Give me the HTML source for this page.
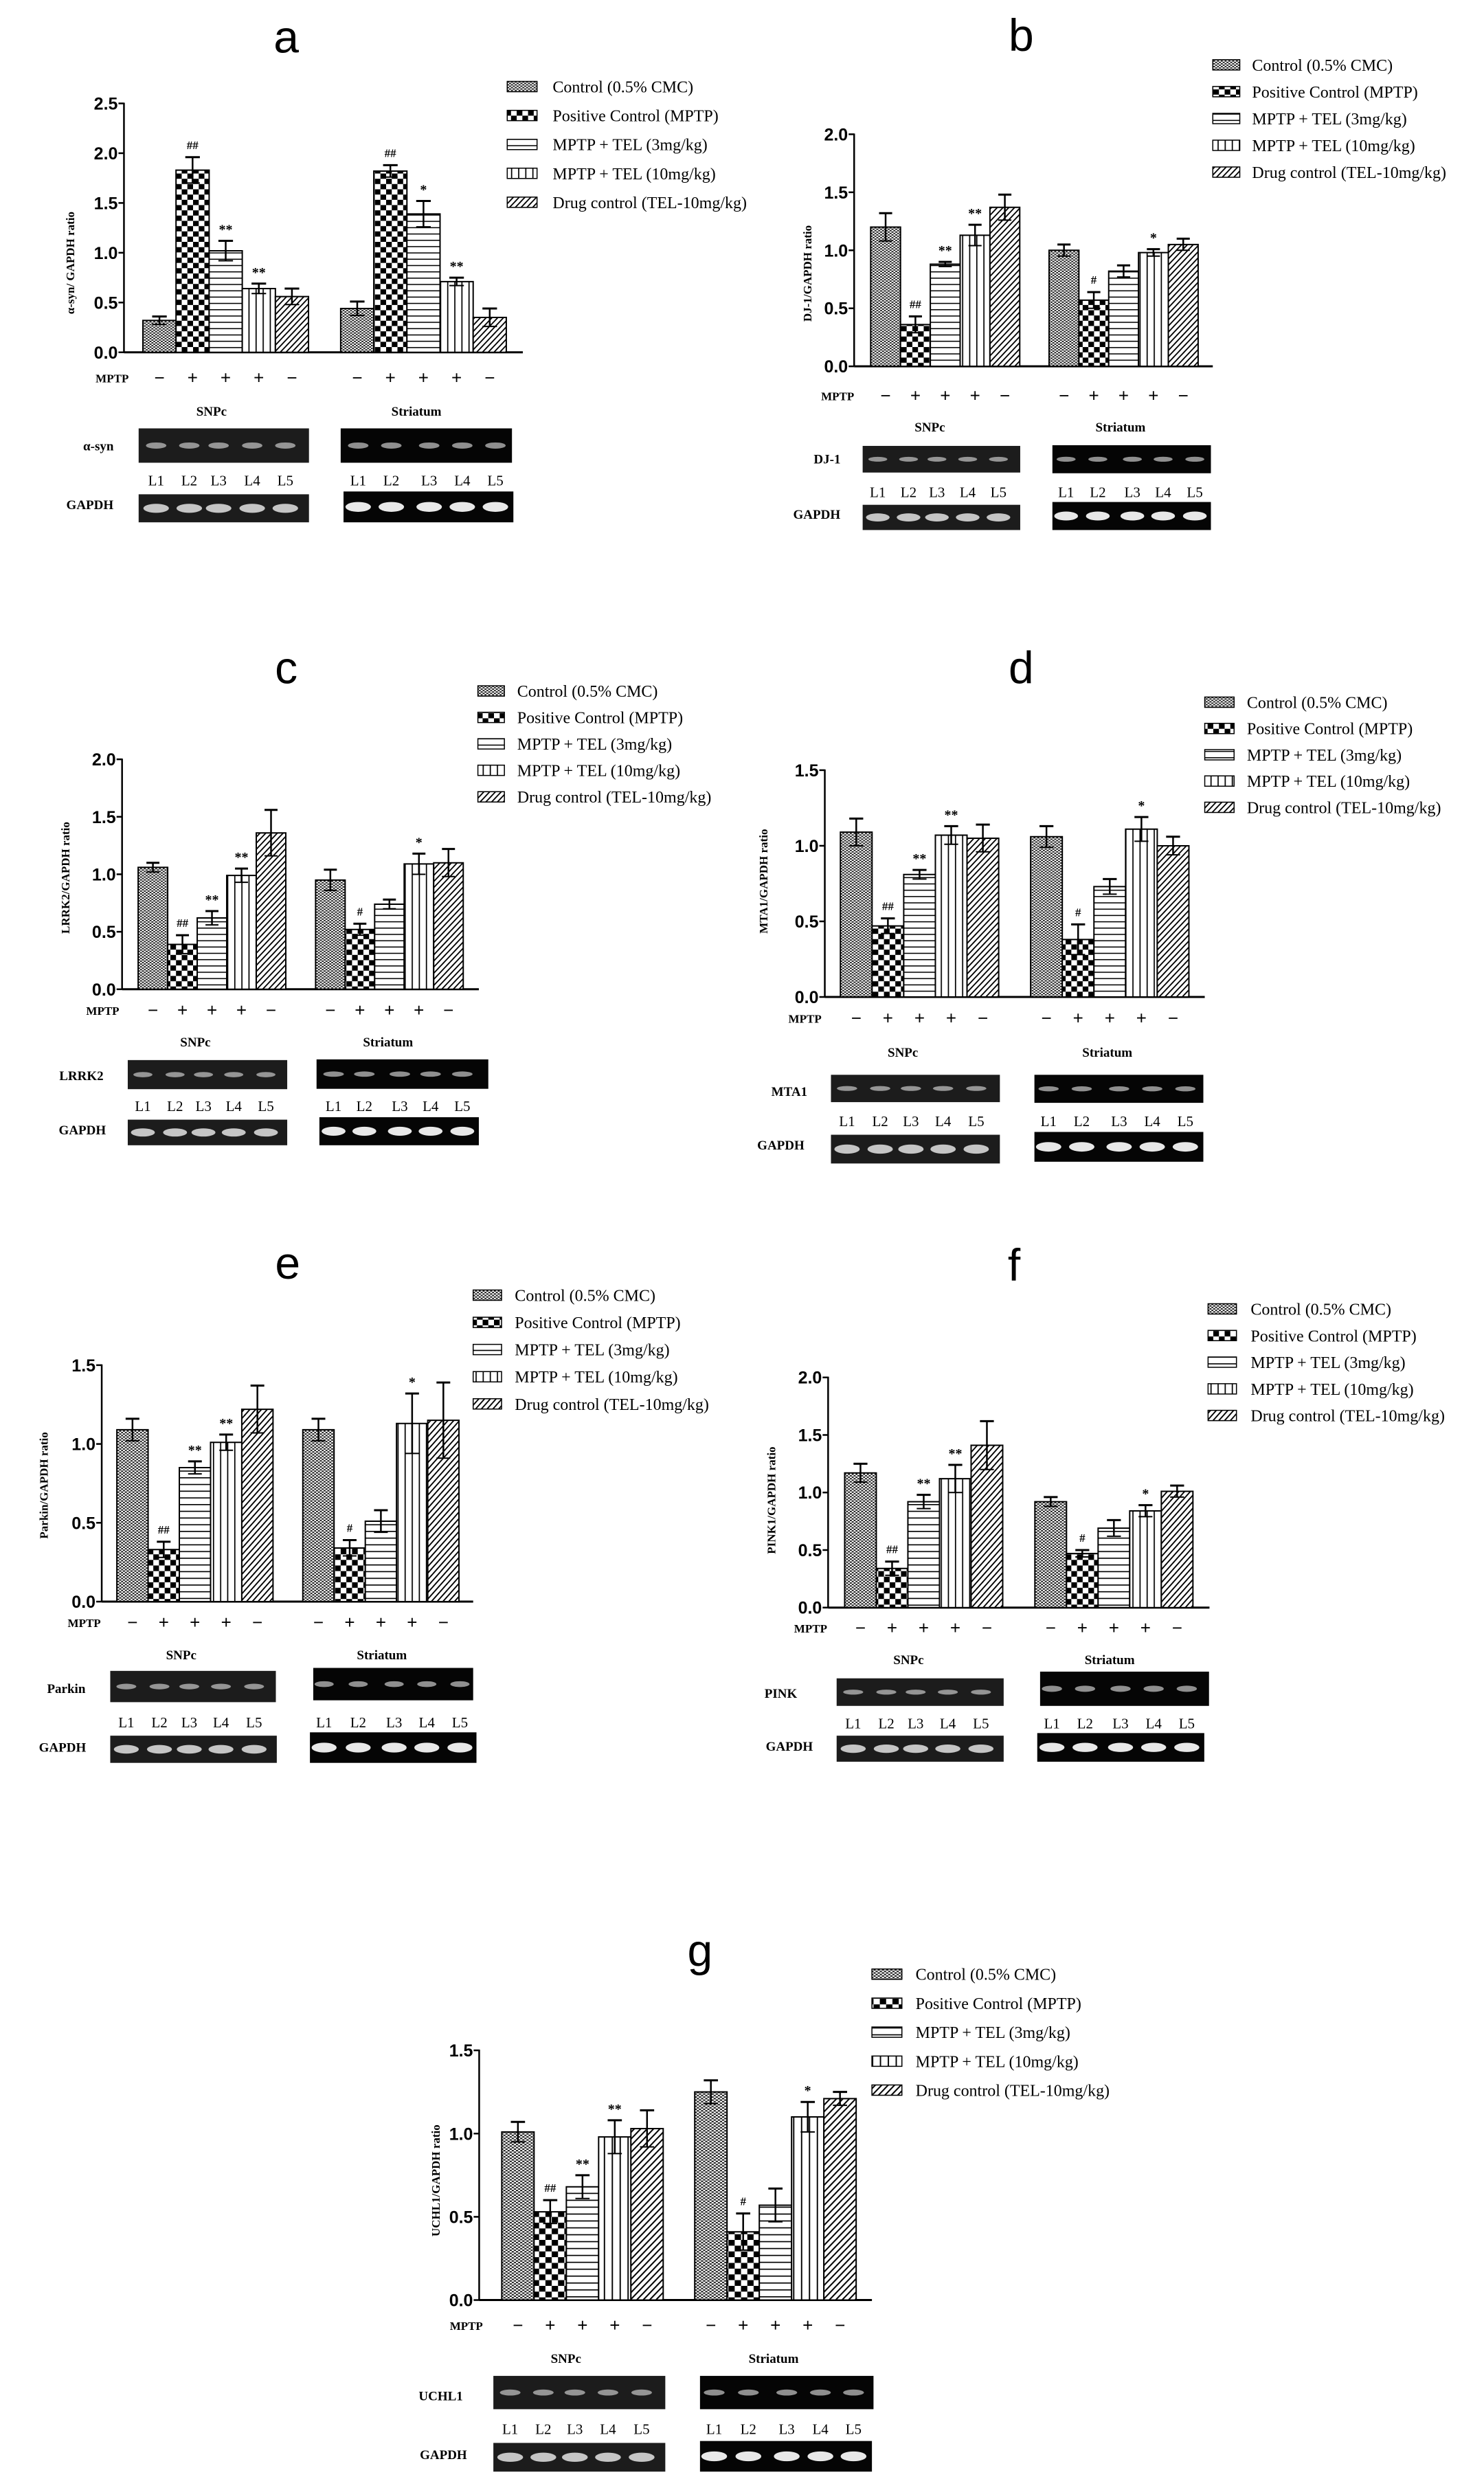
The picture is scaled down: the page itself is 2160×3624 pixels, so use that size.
<!DOCTYPE html>
<html>
<head>
<meta charset="utf-8">
<style>
html,body{margin:0;padding:0;background:#fff;}
svg{display:block;}
</style>
</head>
<body>
<svg id="fig" xmlns="http://www.w3.org/2000/svg" width="2160" height="3624" viewBox="0 0 2160 3624">
<defs>
  <pattern id="p-control" patternUnits="userSpaceOnUse" width="8" height="8">
    <rect width="8" height="8" fill="#fff"/>
    <rect width="4" height="4" fill="#222"/>
    <rect x="4" y="4" width="4" height="4" fill="#222"/>
  </pattern>
  <pattern id="p-positive" patternUnits="userSpaceOnUse" width="24" height="30">
    <rect width="24" height="30" fill="#fff"/>
    <rect width="12" height="15" fill="#000"/>
    <rect x="12" y="15" width="12" height="15" fill="#000"/>
  </pattern>
  <pattern id="p-tel3" patternUnits="userSpaceOnUse" width="10" height="18">
    <rect width="10" height="18" fill="#fff"/>
    <rect y="0" width="10" height="3" fill="#000"/>
  </pattern>
  <pattern id="p-tel10" patternUnits="userSpaceOnUse" width="15" height="10">
    <rect width="15" height="10" fill="#fff"/>
    <rect x="0" width="2.5" height="10" fill="#000"/>
  </pattern>
  <pattern id="p-drug" patternUnits="userSpaceOnUse" width="10" height="10" patternTransform="rotate(35)">
    <rect width="10" height="10" fill="#fff"/>
    <rect width="3" height="10" fill="#000"/>
  </pattern>
</defs>
</svg>
<script>
// ---- data ----
const legendLabels = ["Control (0.5% CMC)","Positive Control (MPTP)","MPTP + TEL (3mg/kg)","MPTP + TEL (10mg/kg)","Drug control (TEL-10mg/kg)"];
const mptpSigns = ["\u2212","+","+","+","\u2212"];
const laneLabels = ["L1","L2","L3","L4","L5"];
const regionLabels = ["SNPc","Striatum"];

const aSnpc = [0.32,1.83,1.02,0.64,0.56];
const aSnpcErr = [0.04,0.13,0.10,0.05,0.08];
const aStr = [0.44,1.82,1.39,0.71,0.35];
const aStrErr = [0.07,0.06,0.13,0.04,0.09];
const aSnpcMarks = ["","##","**","**",""];
const aStrMarks = ["","##","*","**",""];
const aTicks = [0,0.5,1.0,1.5,2.0,2.5];

const bSnpc = [1.20,0.36,0.88,1.13,1.37];
const bSnpcErr = [0.12,0.07,0.02,0.09,0.11];
const bStr = [1.00,0.57,0.82,0.98,1.05];
const bStrErr = [0.05,0.07,0.05,0.03,0.05];
const bSnpcMarks = ["","##","**","**",""];
const bStrMarks = ["","#","","*",""];
const bTicks = [0,0.5,1.0,1.5,2.0];

const cSnpc = [1.06,0.39,0.62,0.99,1.36];
const cSnpcErr = [0.04,0.08,0.06,0.06,0.20];
const cStr = [0.95,0.52,0.74,1.09,1.10];
const cStrErr = [0.09,0.05,0.04,0.09,0.12];
const cSnpcMarks = ["","##","**","**",""];
const cStrMarks = ["","#","","*",""];
const cTicks = [0,0.5,1.0,1.5,2.0];

const dSnpc = [1.09,0.47,0.81,1.07,1.05];
const dSnpcErr = [0.09,0.05,0.03,0.06,0.09];
const dStr = [1.06,0.38,0.73,1.11,1.00];
const dStrErr = [0.07,0.10,0.05,0.08,0.06];
const dSnpcMarks = ["","##","**","**",""];
const dStrMarks = ["","#","","*",""];
const dTicks = [0,0.5,1.0,1.5];

const eSnpc = [1.09,0.33,0.85,1.01,1.22];
const eSnpcErr = [0.07,0.05,0.04,0.05,0.15];
const eStr = [1.09,0.34,0.51,1.13,1.15];
const eStrErr = [0.07,0.05,0.07,0.19,0.24];
const eSnpcMarks = ["","##","**","**",""];
const eStrMarks = ["","#","","*",""];
const eTicks = [0,0.5,1.0,1.5];

const fSnpc = [1.17,0.34,0.92,1.12,1.41];
const fSnpcErr = [0.08,0.06,0.06,0.12,0.21];
const fStr = [0.92,0.47,0.69,0.84,1.01];
const fStrErr = [0.04,0.03,0.07,0.05,0.05];
const fSnpcMarks = ["","##","**","**",""];
const fStrMarks = ["","#","","*",""];
const fTicks = [0,0.5,1.0,1.5,2.0];

const gSnpc = [1.01,0.53,0.68,0.98,1.03];
const gSnpcErr = [0.06,0.07,0.07,0.10,0.11];
const gStr = [1.25,0.41,0.57,1.10,1.21];
const gStrErr = [0.07,0.11,0.10,0.09,0.04];
const gSnpcMarks = ["","##","**","**",""];
const gStrMarks = ["","#","","*",""];
const gTicks = [0,0.5,1.0,1.5];

const patterns = ["p-control","p-positive","p-tel3","p-tel10","p-drug"];

// ---- layout (in zoom-space coordinates per panel) ----
const panels = [
 {id:"a",ox:0,oy:0,fx:1.452,fy:1.96,title:"a",tx:605,ty:150,ytitle:"\u03b1-syn/ GAPDH ratio",ytx:148,yty:750,
  axisX:262,y0:1005,yTop:295,top:2.5,ticks:aTicks,xEnd:1105,b1:302,b2:720,bw:70,
  snpc:aSnpc,snpcErr:aSnpcErr,str:aStr,strErr:aStrErr,m1:aSnpcMarks,m2:aStrMarks,
  lx:1072,lw:63,ly:248,ldy:82.5,ltx:1168,mptpY:1077,mptpR:272,regY:1170,r1:447,r2:880,
  gene:"\u03b1-syn",gl:208,gly:1285,g1:[293,1222,653,1320],g2:[720,1222,1082,1320],h1:[293,1410,653,1490],h2:[726,1402,1085,1490],
  laneY:1385,lanes1:[330,400,462,533,603],lanes2:[757,827,907,977,1047],gdx:190,gdy:1452},
 {id:"b",ox:1080,oy:0,fx:1.452,fy:1.96,title:"b",tx:590,ty:145,ytitle:"DJ-1/GAPDH ratio",ytx:138,yty:780,
  axisX:237,y0:1045,yTop:383,top:2.0,ticks:bTicks,xEnd:995,b1:272,b2:649,bw:63,
  snpc:bSnpc,snpcErr:bSnpcErr,str:bStr,strErr:bStrErr,m1:bSnpcMarks,m2:bStrMarks,
  lx:995,lw:57,ly:186,ldy:76.5,ltx:1078,mptpY:1128,mptpR:237,regY:1215,r1:397,r2:800,
  gene:"DJ-1",gl:180,gly:1322,g1:[255,1272,588,1348],g2:[656,1270,991,1350],h1:[255,1440,588,1512],h2:[656,1432,991,1512],
  laneY:1418,lanes1:[287,352,412,477,542],lanes2:[685,752,825,890,957],gdx:158,gdy:1480},
 {id:"c",ox:0,oy:900,fx:1.452,fy:1.96,title:"c",tx:605,ty:185,ytitle:"LRRK2/GAPDH ratio",ytx:138,yty:740,
  axisX:258,y0:1058,yTop:402,top:2.0,ticks:cTicks,xEnd:1012,b1:292,b2:667,bw:62.4,
  snpc:cSnpc,snpcErr:cSnpcErr,str:cStr,strErr:cStrErr,m1:cSnpcMarks,m2:cStrMarks,
  lx:1010,lw:56,ly:208,ldy:75.5,ltx:1093,mptpY:1117,mptpR:252,regY:1205,r1:413,r2:820,
  gene:"LRRK2",gl:172,gly:1317,g1:[270,1260,607,1343],g2:[669,1258,1032,1342],h1:[270,1430,607,1503],h2:[675,1423,1012,1503],
  laneY:1405,lanes1:[302,370,430,494,562],lanes2:[705,770,845,910,977],gdx:174,gdy:1472},
 {id:"d",ox:1080,oy:900,fx:1.452,fy:1.96,title:"d",tx:590,ty:185,ytitle:"MTA1/GAPDH ratio",ytx:45,yty:750,
  axisX:175,y0:1080,yTop:433,top:1.5,ticks:dTicks,xEnd:978,b1:208,b2:610,bw:66.9,
  snpc:dSnpc,snpcErr:dSnpcErr,str:dStr,strErr:dStrErr,m1:dSnpcMarks,m2:dStrMarks,
  lx:978,lw:62,ly:240,ldy:75,ltx:1067,mptpY:1140,mptpR:168,regY:1235,r1:340,r2:772,
  gene:"MTA1",gl:100,gly:1362,g1:[188,1302,545,1380],g2:[618,1302,975,1382],h1:[188,1473,545,1555],h2:[618,1465,975,1550],
  laneY:1448,lanes1:[222,292,357,425,495],lanes2:[648,718,797,867,937],gdx:82,gdy:1515},
 {id:"e",ox:0,oy:1750,fx:1.452,fy:1.845,title:"e",tx:608,ty:205,ytitle:"Parkin/GAPDH ratio",ytx:92,yty:760,
  axisX:215,y0:1072,yTop:437,top:1.5,ticks:eTicks,xEnd:1000,b1:247,b2:640,bw:66,
  snpc:eSnpc,snpcErr:eSnpcErr,str:eStr,strErr:eStrErr,m1:eSnpcMarks,m2:eStrMarks,
  lx:1000,lw:60,ly:250,ldy:73,ltx:1088,mptpY:1127,mptpR:213,regY:1212,r1:383,r2:807,
  gene:"Parkin",gl:140,gly:1317,g1:[233,1258,583,1342],g2:[662,1250,1000,1337],h1:[233,1432,585,1505],h2:[655,1423,1007,1505],
  laneY:1410,lanes1:[267,337,400,467,537],lanes2:[685,757,833,902,972],gdx:132,gdy:1475},
 {id:"f",ox:1080,oy:1750,fx:1.452,fy:1.845,title:"f",tx:575,ty:210,ytitle:"PINK1/GAPDH ratio",ytx:62,yty:800,
  axisX:182,y0:1088,yTop:470,top:2.0,ticks:fTicks,xEnd:988,b1:217,b2:619,bw:66.8,
  snpc:fSnpc,snpcErr:fSnpcErr,str:fStr,strErr:fStrErr,m1:fSnpcMarks,m2:fStrMarks,
  lx:985,lw:60,ly:287,ldy:71.5,ltx:1075,mptpY:1142,mptpR:180,regY:1225,r1:352,r2:777,
  gene:"PINK",gl:82,gly:1330,g1:[200,1278,553,1352],g2:[630,1260,987,1352],h1:[200,1432,553,1502],h2:[624,1425,977,1502],
  laneY:1412,lanes1:[235,305,367,435,505],lanes2:[655,725,800,870,940],gdx:100,gdy:1472},
 {id:"g",ox:500,oy:2750,fx:1.3067,fy:1.794,title:"g",tx:678,ty:200,ytitle:"UCHL1/GAPDH ratio",ytx:175,yty:760,
  axisX:258,y0:1072,yTop:420,top:1.5,ticks:gTicks,xEnd:1005,b1:301,b2:668,bw:61.4,
  snpc:gSnpc,snpcErr:gSnpcErr,str:gStr,strErr:gStrErr,m1:gSnpcMarks,m2:gStrMarks,
  lx:1005,lw:57,ly:222,ldy:75.7,ltx:1088,mptpY:1137,mptpR:265,regY:1222,r1:423,r2:818,
  gene:"UCHL1",gl:185,gly:1334,g1:[285,1270,612,1357],g2:[678,1270,1008,1357],h1:[285,1445,612,1520],h2:[678,1440,1005,1520],
  laneY:1422,lanes1:[317,380,440,503,567],lanes2:[705,770,843,907,970],gdx:190,gdy:1487}
];

const NS = "http://www.w3.org/2000/svg";
const svg = document.getElementById("fig");

function mk(tag, parent){
  const e = document.createElementNS(NS, tag);
  parent.appendChild(e);
  return e;
}
function line(parent,P,x1,y1,x2,y2,w){
  const l = mk("line",parent);
  l.setAttribute("x1",x1);l.setAttribute("y1",y1);l.setAttribute("x2",x2);l.setAttribute("y2",y2);
  l.setAttribute("stroke","#000");l.setAttribute("stroke-width",w||2.5);
  l.setAttribute("vector-effect","non-scaling-stroke");
  return l;
}
function txt(parent,P,x,y,str,size,family,weight,anchor,rot){
  const t = mk("text",parent);
  t.setAttribute("transform","translate("+x+","+y+") scale("+(P.fx/P.fy)+",1)"+(rot?" rotate(-90)":""));
  t.setAttribute("font-size",size*P.fy);
  t.setAttribute("font-family",family==="sans"?"'Liberation Sans', Arial, sans-serif":"'Liberation Serif', 'Times New Roman', serif");
  if(weight) t.setAttribute("font-weight",weight);
  t.setAttribute("text-anchor",anchor||"start");
  t.textContent = str;
  return t;
}

panels.forEach(P=>{
  const g = mk("g",svg);
  g.setAttribute("transform","translate("+P.ox+","+P.oy+") scale("+(1/P.fx)+","+(1/P.fy)+")");
  
  
  const yS = v => P.y0 - (v/P.top)*(P.y0-P.yTop);

  let t = txt(g,P,P.tx,P.ty,P.title,66,"sans","normal","middle");
  
  

  // axes
  let ax = line(g,P,P.axisX,P.yTop-2,P.axisX,P.y0,2.5);
  
  
  let xx = line(g,P,P.axisX,P.y0,P.xEnd,P.y0,3);
  
  
  P.ticks.forEach(v=>{
    const y = yS(v);
    const tk = line(g,P,P.axisX-8*P.fx,y,P.axisX,y,2.5);
    
    
    const tl = txt(g,P,P.axisX-9*P.fx,y+9*P.fy,v.toFixed(1),25,"sans","bold","end");
    
    
  });
  const yt = txt(g,P,P.ytx+6*P.fx,P.yty,P.ytitle,17,"serif","bold","middle",true);
  
  

  // bars
  [[P.b1,P.snpc,P.snpcErr,P.m1,"snpc"],[P.b2,P.str,P.strErr,P.m2,"striatum"]].forEach(([bx,vals,errs,marks,grp])=>{
    vals.forEach((v,i)=>{
      const x = bx + i*P.bw;
      const r = mk("rect",g);
      r.setAttribute("x",x);r.setAttribute("y",yS(v));
      r.setAttribute("width",P.bw);r.setAttribute("height",P.y0-yS(v));
      r.setAttribute("fill","url(#"+patterns[i]+")");
      r.setAttribute("stroke","#000");r.setAttribute("stroke-width",2);
      r.setAttribute("vector-effect","non-scaling-stroke");
      
      
      const cx = x + P.bw/2;
      const e1 = line(g,P,cx,yS(v-errs[i]),cx,yS(v+errs[i]),2.5);
      
      
      const cw = P.bw*0.22;
      const e2 = line(g,P,cx-cw,yS(v+errs[i]),cx+cw,yS(v+errs[i]),3);
      
      
      const e3 = line(g,P,cx-cw,yS(v-errs[i]),cx+cw,yS(v-errs[i]),2);
      
      
      if(marks[i]){
        const isStar = marks[i].indexOf("*")>=0;
        const m = txt(g,P,cx,yS(v+errs[i])-(isStar?10:12)*P.fy,marks[i],isStar?20:17,"serif","bold","middle");
        
        
      }
      const sg = txt(g,P,cx,P.mptpY+9*P.fy,mptpSigns[i],26,"sans","normal","middle");
      
      
    });
  });
  const ml = txt(g,P,P.mptpR,P.mptpY+7*P.fy,"MPTP",17,"serif","bold","end");
  
  

  // legend
  legendLabels.forEach((lab,i)=>{
    const y = P.ly + i*P.ldy;
    const s = mk("rect",g);
    s.setAttribute("x",P.lx);s.setAttribute("y",y-15*P.fy/1.96*1.96/2*1.0-0);
    s.setAttribute("y",y-8*P.fy);
    s.setAttribute("width",P.lw);s.setAttribute("height",15*P.fy);
    s.setAttribute("fill","url(#"+patterns[i]+")");
    s.setAttribute("stroke","#000");s.setAttribute("stroke-width",1.5);
    s.setAttribute("vector-effect","non-scaling-stroke");
    
    
    const lt = txt(g,P,P.ltx,y+8*P.fy,lab,24,"serif","normal","start");
    
    
  });

  // regions
  [P.r1,P.r2].forEach((rx,i)=>{
    const rt = txt(g,P,rx,P.regY+8*P.fy,regionLabels[i],19,"serif","bold","middle");
    
    
  });

  // gels
  function gel(box,lanes,kind,dark){
    const r = mk("rect",g);
    r.setAttribute("x",box[0]);r.setAttribute("y",box[1]);
    r.setAttribute("width",box[2]-box[0]);r.setAttribute("height",box[3]-box[1]);
    r.setAttribute("fill",dark?"#050505":"#1c1c1c");
    
    
    const cy = (box[1]+box[3])/2;
    lanes.forEach(lx=>{
      const b = mk("ellipse",g);
      b.setAttribute("cx",lx);b.setAttribute("cy",cy);
      b.setAttribute("rx",(kind==="gapdh"?(box[2]-box[0])*0.075:(box[2]-box[0])*0.06));
      b.setAttribute("ry",(kind==="gapdh"?(box[3]-box[1])*0.16:(box[3]-box[1])*0.09));
      b.setAttribute("fill",kind==="gapdh"?(dark?"#f4f4f4":"#cfcfcf"):"#bdbdbd");
      b.setAttribute("opacity",kind==="gapdh"?0.95:0.75);
      
      
    });
  }
  gel(P.g1,P.lanes1,"target",false);
  gel(P.g2,P.lanes2,"target",true);
  gel(P.h1,P.lanes1,"gapdh",false);
  gel(P.h2,P.lanes2,"gapdh",true);
  [P.lanes1,P.lanes2].forEach(arr=>{
    arr.forEach((lx,i)=>{
      const lt = txt(g,P,lx,P.laneY,laneLabels[i],21,"serif","normal","middle");
      
      
    });
  });
  const gl = txt(g,P,P.gl,P.gly,P.gene,19,"serif","bold","middle");
  
  
  const gd = txt(g,P,P.gdx,P.gdy,"GAPDH",19,"serif","bold","middle");
  
  
});
</script>
</body>
</html>
